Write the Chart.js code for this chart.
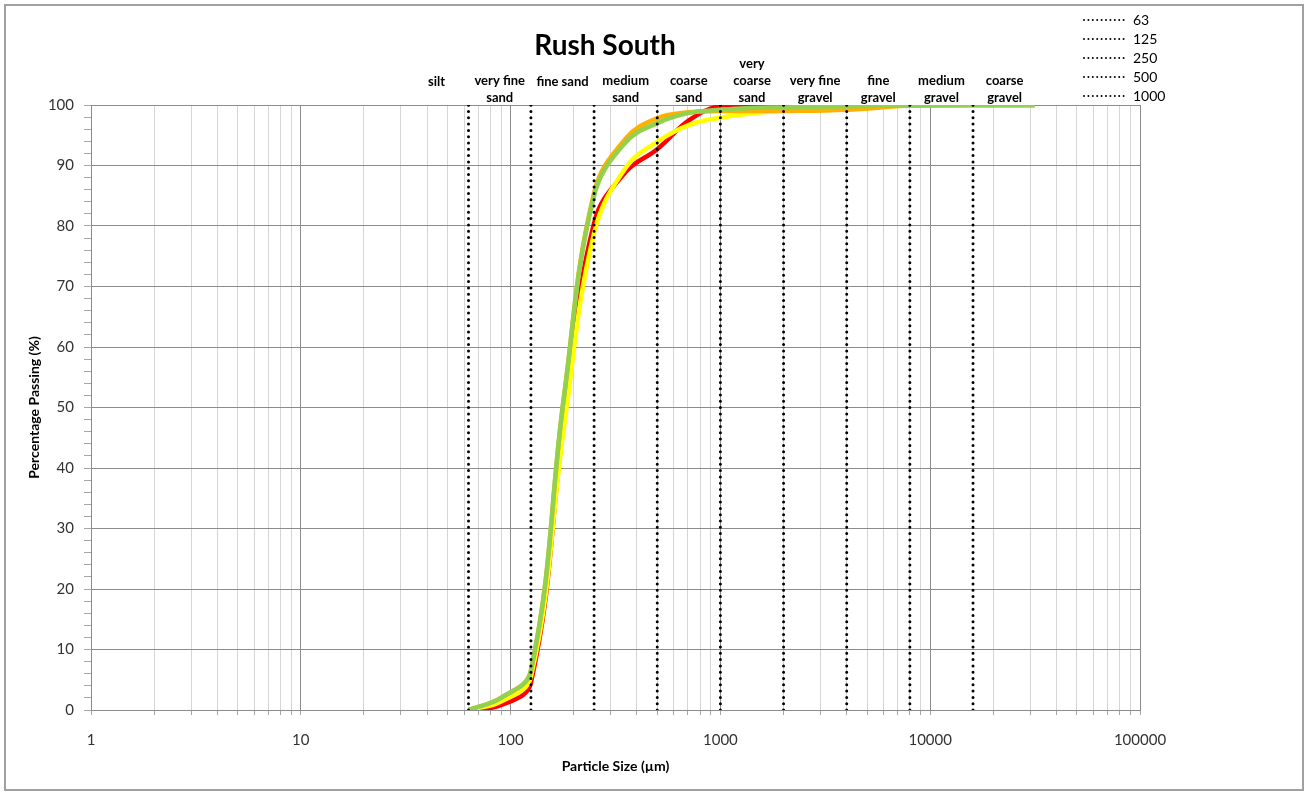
<!DOCTYPE html>
<html lang="en">
<head>
<meta charset="UTF-8">
<title>Rush South</title>
<script src="https://cdn.jsdelivr.net/npm/chart.js@4.4.0/dist/chart.umd.min.js"></script>
<style>
  body { margin: 0; background: #fff; }
  #wrap { position: relative; width: 1308px; height: 794px; }
</style>
</head>
<body>
<div id="wrap"><canvas id="grainChart" width="1308" height="794"></canvas></div>
<script>
// sieve sizes in µm and % passing for each sample
const sizes  = [63, 90, 125, 180, 250, 355, 500, 710, 1000, 1400, 2000, 4000, 8000, 16000, 31500];
const red    = [0, 0.8, 4.5, 48, 80.5, 89, 92.7, 97.5, 99.9, 100, 100, 100, 100, 100, 100];
const yellow = [0, 1.4, 5.5, 47, 78.8, 89.7, 93.9, 96.7, 97.9, 98.6, 99.1, 99.5, 99.9, 100, 100];
const orange = [0, 2.0, 6.5, 52, 85.5, 94.5, 97.8, 98.8, 99.0, 99.0, 99.0, 99.2, 99.9, 100, 100];
const green  = [0, 2.0, 6.5, 52, 85, 93.9, 97, 98.7, 99.2, 99.5, 99.6, 99.8, 99.9, 100, 100];

// Wentworth class limits (dotted verticals), only the first ones are in the legend
const limits = [63, 125, 250, 500, 1000, 2000, 4000, 8000, 16000];
const legendLimits = [63, 125, 250, 500, 1000];

// class names written above the plot, between these edges
const classEdges = [31.25, 63, 125, 250, 500, 1000, 2000, 4000, 8000, 16000, 32000];
const classNames = [
  ['silt'], ['very fine', 'sand'], ['fine sand'], ['medium', 'sand'], ['coarse', 'sand'],
  ['very', 'coarse', 'sand'], ['very fine', 'gravel'], ['fine', 'gravel'], ['medium', 'gravel'], ['coarse', 'gravel']
];

const xTicks = [1, 2, 3, 4, 5, 6, 7, 8, 9,
  10, 20, 30, 40, 50, 60, 70, 80, 90,
  100, 200, 300, 400, 500, 600, 700, 800, 900,
  1000, 2000, 3000, 4000, 5000, 6000, 7000, 8000, 9000,
  10000, 20000, 30000, 40000, 50000, 60000, 70000, 80000, 90000, 100000];

const FONT = 'Lato, "Open Sans", sans-serif';

function curve(label, values, color, order) {
  return {
    label: label,
    data: sizes.map((s, i) => ({ x: s, y: values[i] })),
    borderColor: color,
    backgroundColor: color,
    borderWidth: 4.5,
    pointRadius: 0,
    tension: 0.4,
    order: order
  };
}

const dotted = limits.map(v => ({
  label: legendLimits.includes(v) ? String(v) : '',
  data: [{ x: v, y: 0 }, { x: v, y: 100 }],
  borderColor: '#000',
  borderWidth: 3,
  borderDash: [0, 6.3],
  borderCapStyle: 'round',
  pointRadius: 0,
  order: 0
}));

const isDecade = v => Math.abs(Math.log10(v) - Math.round(Math.log10(v))) < 1e-9;

const decor = {
  id: 'decor',
  beforeDraw(chart) {
    const ctx = chart.ctx;
    ctx.save();
    ctx.fillStyle = '#fff';
    ctx.fillRect(0, 0, chart.width, chart.height);
    ctx.strokeStyle = '#a0a0a0';
    ctx.lineWidth = 2;
    ctx.strokeRect(5, 5, 1298, 785);
    ctx.restore();
  },
  afterDraw(chart) {
    const ctx = chart.ctx;
    const xs = chart.scales.x;
    ctx.save();
    // title
    ctx.fillStyle = '#000';
    ctx.textAlign = 'center';
    ctx.textBaseline = 'middle';
    ctx.font = 'bold 28px ' + FONT;
    ctx.fillText('Rush South', 605, 46);

    // class names
    ctx.font = 'bold 13px ' + FONT;
    classNames.forEach((lines, i) => {
      const mid = Math.sqrt(classEdges[i] * classEdges[i + 1]);
      const cx = xs.getPixelForValue(mid);
      const last = lines.length === 1 ? 82 : 98;
      lines.forEach((t, j) => {
        ctx.fillText(t, cx, last - (lines.length - 1 - j) * 17);
      });
    });

    // legend for the class limits
    ctx.textAlign = 'left';
    ctx.font = '14px ' + FONT;
    let row = 0;
    chart.data.datasets.forEach(ds => {
      if (!legendLimits.map(String).includes(ds.label)) return;
      const y = 20 + row * 19;
      ctx.strokeStyle = ds.borderColor;
      ctx.lineWidth = 2;
      ctx.lineCap = 'round';
      ctx.setLineDash([0, 4.4]);
      ctx.beginPath();
      ctx.moveTo(1084, y);
      ctx.lineTo(1126, y);
      ctx.stroke();
      ctx.setLineDash([]);
      ctx.fillStyle = '#000';
      ctx.fillText(ds.label, 1133, y);
      row++;
    });
    ctx.restore();
  }
};

new Chart(document.getElementById('grainChart'), {
  type: 'line',
  data: {
    datasets: [
      ...dotted,
      curve('Green', green, '#92D050', 1),
      curve('Orange', orange, '#FFB000', 2),
      curve('Yellow', yellow, '#FFFF00', 3),
      curve('Red', red, '#FF0000', 4)
    ]
  },
  options: {
    responsive: false,
    animation: false,
    layout: { padding: { top: 105, right: 168, left: 0, bottom: 0 } },
    plugins: {
      legend: { display: false },
      tooltip: { enabled: false }
    },
    scales: {
      x: {
        type: 'logarithmic',
        min: 1,
        max: 100000,
        afterBuildTicks: scale => { scale.ticks = xTicks.map(v => ({ value: v, major: isDecade(v) })); },
        afterFit: scale => { scale.height = 84; },
        ticks: {
          autoSkip: false,
          maxRotation: 0,
          padding: 16,
          color: '#333',
          font: { family: FONT, size: 15 },
          callback: v => isDecade(v) ? String(v) : ''
        },
        grid: {
          color: c => isDecade(c.tick.value) ? '#8c8c8c' : '#d6d6d6',
          tickColor: '#a6a6a6',
          tickLength: 5
        },
        border: { color: '#8c8c8c' },
        title: {
          display: true,
          text: 'Particle Size (µm)',
          color: '#000',
          font: { family: FONT, size: 14, weight: 'bold' },
          padding: { top: 0, bottom: 19 }
        }
      },
      y: {
        min: 0,
        max: 100,
        afterFit: scale => { scale.width = 91; },
        ticks: {
          stepSize: 2,
          autoSkip: false,
          padding: 10,
          color: '#333',
          font: { family: FONT, size: 15 },
          callback: v => v % 10 === 0 ? String(v) : ''
        },
        grid: {
          color: c => c.tick.value % 10 === 0 ? '#8c8c8c' : 'rgba(0,0,0,0)',
          tickColor: '#a6a6a6',
          tickLength: 7
        },
        border: { color: '#8c8c8c' },
        title: {
          display: true,
          text: 'Percentage Passing (%)',
          color: '#000',
          font: { family: FONT, size: 14, weight: 'bold' },
          padding: { top: 26, bottom: 0 }
        }
      }
    }
  },
  plugins: [decor]
});
</script>
</body>
</html>
